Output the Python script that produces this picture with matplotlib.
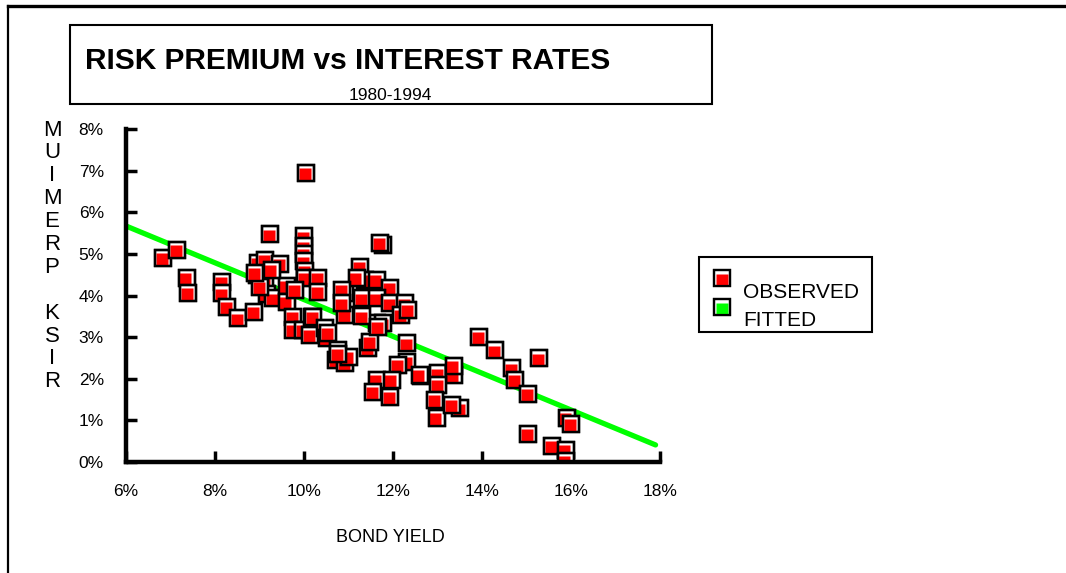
import matplotlib
matplotlib.use("Agg")
import matplotlib.pyplot as plt
import matplotlib.transforms as mtransforms
from matplotlib.patches import Rectangle
from matplotlib.lines import Line2D
from matplotlib.ticker import FuncFormatter

plt.rcParams['font.family'] = ['Liberation Sans', 'DejaVu Sans']

# bond yield (%) vs risk premium (%), 1980-1994
bond_yield = [
    6.84, 7.14, 7.36, 7.40, 8.16, 8.16, 8.28, 8.52, 8.88, 8.97,
    9.12, 8.94, 9.46, 9.12, 9.16, 9.31, 9.61, 9.61, 9.76, 9.24,
    10.04, 10.00, 10.00, 10.00, 10.00, 10.02, 10.02, 10.32, 10.32, 9.80,
    9.01, 9.76, 9.98, 10.17, 10.20, 10.13, 10.47, 10.51, 10.77, 10.73,
    10.92, 11.00, 10.92, 10.92, 11.26, 11.78, 11.71, 11.37, 11.18, 11.63,
    11.93, 11.30, 11.63, 11.93, 12.27, 12.19, 11.63, 11.78, 11.44, 11.48,
    12.31, 12.31, 12.12, 12.64, 11.63, 11.97, 11.55, 11.93, 11.30, 11.66,
    13.02, 13.36, 13.02, 12.94, 13.51, 12.98, 13.32, 13.93, 14.29, 15.29,
    14.68, 14.74, 15.04, 15.90, 16.01, 15.04, 15.58, 15.88, 15.88, 13.36,
    12.34, 10.55, 10.77, 8.90, 9.27, 10.85, 10.85, 12.60,
]
risk_premium = [
    4.90, 5.10, 4.42, 4.07, 4.33, 4.05, 3.73, 3.45, 3.60, 4.78,
    4.86, 4.50, 4.75, 4.33, 4.04, 3.93, 4.24, 3.85, 3.49, 5.47,
    6.94, 5.42, 5.18, 5.00, 4.82, 4.60, 4.42, 4.42, 4.09, 4.13,
    4.21, 3.17, 3.17, 3.49, 3.49, 3.05, 3.21, 2.97, 2.69, 2.45,
    2.37, 2.53, 4.06, 3.53, 4.69, 5.22, 5.26, 4.38, 4.42, 4.38,
    4.18, 3.93, 3.93, 3.81, 3.81, 3.53, 3.33, 3.33, 2.73, 2.89,
    2.85, 2.41, 2.33, 2.07, 1.97, 1.97, 1.69, 1.57, 3.50, 3.25,
    2.13, 2.09, 1.85, 1.49, 1.29, 1.05, 1.37, 3.00, 2.68, 2.49,
    2.25, 1.97, 1.63, 1.05, 0.91, 0.67, 0.39, 0.29, 0.02, 2.30,
    3.65, 3.10, 2.60, 4.54, 4.62, 4.13, 3.81, 2.10,
]

# regression line end points
fit_x = [6.0, 17.9]
fit_y = [5.67, 0.41]

x_ticks = [6, 8, 10, 12, 14, 16, 18]
y_ticks = [0, 1, 2, 3, 4, 5, 6, 7, 8]

fig = plt.figure(figsize=(10.66, 5.73), dpi=100)
ax = fig.add_axes([126 / 1066, 1 - 462 / 573, 534 / 1066, 333 / 573])

ax.plot(fit_x, fit_y, color='#00ff00', lw=3.8, solid_capstyle='round', zorder=2)

# each marker: white square with black edge, red fill shifted down-left
shift = mtransforms.offset_copy(ax.transData, fig=fig, x=-1.2, y=-1.2, units='dots')
z = 3
for x, y in zip(bond_yield, risk_premium):
    ax.plot(x, y, 's', ms=11.5, mfc='white', mec='black', mew=1.7, zorder=z)
    ax.plot(x, y, 's', ms=9, mfc='red', mec='none', transform=shift, zorder=z + 1)
    ax.plot(x, y, 's', ms=11.5, mfc='none', mec='black', mew=1.7, zorder=z + 2)
    z += 3

ax.set_xlim(6, 18)
ax.set_ylim(0, 8)
ax.set_xticks(x_ticks)
ax.set_yticks(y_ticks)
pct = FuncFormatter(lambda v, pos: f"{v:.0f}%")
ax.xaxis.set_major_formatter(pct)
ax.yaxis.set_major_formatter(pct)
ax.tick_params(direction='in', length=8, width=2.5, labelsize=12.5, pad=16)

for side in ['top', 'right']:
    ax.spines[side].set_visible(False)
for side in ['left', 'bottom']:
    ax.spines[side].set_linewidth(3.2)
    ax.spines[side].set_zorder(500)
ax.patch.set_alpha(0)

# outer frame: left and top edges only
fig.add_artist(Line2D([8 / 1066, 8 / 1066], [0, 1 - 6 / 573], color='black', lw=1.6))
fig.add_artist(Line2D([8 / 1066, 1], [1 - 6 / 573, 1 - 6 / 573], color='black', lw=2.4))

# title box
fig.add_artist(Rectangle((70 / 1066, 1 - 104 / 573), 642 / 1066, 79 / 573,
                         fill=False, ec='black', lw=1.5))
fig.text(85 / 1066, 1 - 61 / 573, "RISK PREMIUM vs INTEREST RATES",
         fontsize=21.5, fontweight='bold', ha='left', va='center')
fig.text(390 / 1066, 1 - 96 / 573, "1980-1994", fontsize=12.5, ha='center', va='center')

# vertical stacked axis title
ylabel = "MUIMERP KSIR"
for i, ch in enumerate(ylabel):
    fig.text(52 / 1066, 1 - (130 + i * 22.9) / 573, ch, fontsize=16,
             ha='center', va='center')

fig.text(390 / 1066, 1 - 537 / 573, "BOND YIELD", fontsize=13, ha='center', va='center')

# legend
fig.add_artist(Rectangle((699 / 1066, 1 - 332 / 573), 173 / 1066, 75 / 573,
                         fill=False, ec='black', lw=1.5))
for yy, col in [(278, 'red'), (307, '#00ff00')]:
    fx, fy = 722 / 1066, 1 - yy / 573
    fig.add_artist(Line2D([fx], [fy], marker='s', ms=11, mfc='white', mec='black', mew=1.6))
    fig.add_artist(Line2D([fx - 0.5 / 1066], [fy - 2 / 573], marker='s', ms=8, mfc=col, mec='none'))
    fig.add_artist(Line2D([fx], [fy], marker='s', ms=11, mfc='none', mec='black', mew=1.6))
fig.text(743 / 1066, 1 - 292 / 573, "OBSERVED", fontsize=15, ha='left', va='center')
fig.text(743 / 1066, 1 - 320 / 573, "FITTED", fontsize=15, ha='left', va='center')

fig.savefig("out.png", dpi=100)
